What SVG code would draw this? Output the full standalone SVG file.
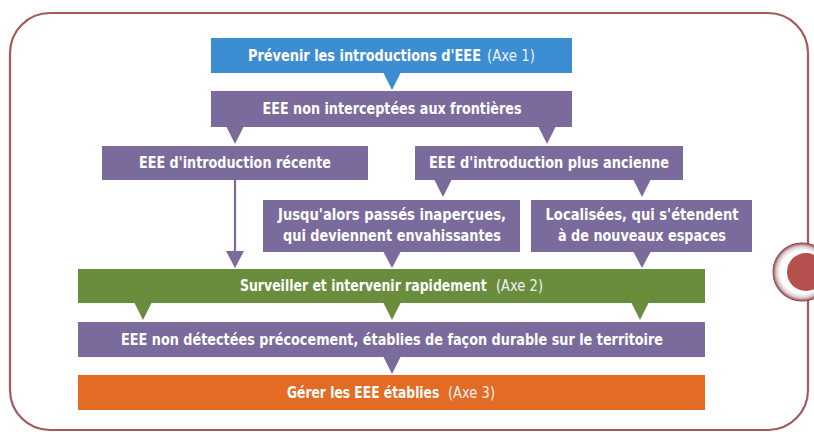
<svg xmlns="http://www.w3.org/2000/svg" width="814" height="432" viewBox="0 0 814 432">
<style>
  .t { font-family: "Liberation Sans Narrow", "DejaVu Sans Condensed", "Liberation Sans", sans-serif; font-size: 15px; font-weight: bold; fill: #ffffff; text-anchor: middle; }
  .s { text-anchor: start; }
  .n { font-weight: normal; fill: #eef0f8; }
  .blue { fill: #3d8dd2; }
  .purple { fill: #7b6b9c; }
  .green { fill: #6a8d3d; }
  .orange { fill: #e36b24; }
</style>
<defs>
  <radialGradient id="ring" cx="0.5" cy="0.5" r="0.5">
    <stop offset="0" stop-color="#ffffff"/>
    <stop offset="0.72" stop-color="#ffffff"/>
    <stop offset="0.86" stop-color="#ddc9c9"/>
    <stop offset="0.97" stop-color="#8f4a4b"/>
    <stop offset="1" stop-color="#8f4a4b" stop-opacity="0"/>
  </radialGradient>
</defs>
<rect x="0" y="0" width="814" height="432" fill="#ffffff"/>
<rect x="10" y="13" width="798" height="417" rx="40" ry="40" fill="#ffffff" stroke="#a35a5d" stroke-width="2.2"/>
<g id="deco">
  <circle cx="802" cy="272" r="30" fill="url(#ring)"/>
  <circle cx="806" cy="272" r="19" fill="#b4504d"/>
</g>
<g id="connectors">
  <polygon class="blue" points="383,72 401,72 392,90"/>
  <polygon class="purple" points="226,126 244,126 235,144"/>
  <polygon class="purple" points="538,126 556,126 547,144"/>
  <polygon class="purple" points="434,179 452,179 443,197"/>
  <polygon class="purple" points="633,179 651,179 642,197"/>
  <line x1="235" y1="180" x2="235" y2="253" stroke="#7b6b9c" stroke-width="2.2"/>
  <polygon class="purple" points="226,251 244,251 235,268"/>
  <polygon class="purple" points="383,251 401,251 392,268"/>
  <polygon class="purple" points="633,251 651,251 642,268"/>
  <polygon class="green" points="134,302 152,302 143,320"/>
  <polygon class="green" points="383,302 401,302 392,320"/>
  <polygon class="green" points="631,302 649,302 640,320"/>
  <polygon class="purple" points="383,356 401,356 392,374"/>
</g>
<g id="axe1">
  <rect class="blue" x="211" y="38" width="361" height="35"/>
  <text class="t s" x="248" y="61" textLength="233" lengthAdjust="spacingAndGlyphs">Prévenir les introductions d'EEE</text>
  <text class="t s n" x="487" y="61" textLength="48" lengthAdjust="spacingAndGlyphs">(Axe 1)</text>
</g>
<g id="non-interceptees">
  <rect class="purple" x="211" y="91" width="361" height="36"/>
  <text class="t" x="392" y="114" textLength="259" lengthAdjust="spacingAndGlyphs">EEE non interceptées aux frontières</text>
</g>
<g id="recente">
  <rect class="purple" x="102" y="146" width="266" height="34"/>
  <text class="t" x="235" y="168" textLength="192" lengthAdjust="spacingAndGlyphs">EEE d'introduction récente</text>
</g>
<g id="ancienne">
  <rect class="purple" x="415" y="146" width="268" height="34"/>
  <text class="t" x="549" y="168" textLength="240" lengthAdjust="spacingAndGlyphs">EEE d'introduction plus ancienne</text>
</g>
<g id="inapercues">
  <rect class="purple" x="263" y="200" width="257" height="52"/>
  <text class="t" x="392" y="220" textLength="228" lengthAdjust="spacingAndGlyphs">Jusqu'alors passés inaperçues,</text>
  <text class="t" x="392" y="241" textLength="218" lengthAdjust="spacingAndGlyphs">qui deviennent envahissantes</text>
</g>
<g id="localisees">
  <rect class="purple" x="531" y="200" width="221" height="52"/>
  <text class="t" x="642" y="220" textLength="193" lengthAdjust="spacingAndGlyphs">Localisées, qui s'étendent</text>
  <text class="t" x="642" y="241" textLength="168" lengthAdjust="spacingAndGlyphs">à de nouveaux espaces</text>
</g>
<g id="axe2">
  <rect class="green" x="78" y="269" width="627" height="34"/>
  <text class="t s" transform="translate(240 291) scale(0.9 1)" x="0" y="0" textLength="274" lengthAdjust="spacingAndGlyphs">Surveiller et intervenir rapidement</text>
  <text class="t s n" x="496" y="291" textLength="47" lengthAdjust="spacingAndGlyphs">(Axe 2)</text>
</g>
<g id="non-detectees">
  <rect class="purple" x="78" y="322" width="627" height="35"/>
  <text class="t" x="392" y="345" textLength="542" lengthAdjust="spacingAndGlyphs">EEE non détectées précocement, établies de façon durable sur le territoire</text>
</g>
<g id="axe3">
  <rect class="orange" x="78" y="375" width="627" height="35"/>
  <text class="t s" transform="translate(287 398) scale(0.88 1)" x="0" y="0" textLength="173" lengthAdjust="spacingAndGlyphs">Gérer les EEE établies</text>
  <text class="t s n" x="448" y="398" textLength="47" lengthAdjust="spacingAndGlyphs">(Axe 3)</text>
</g>
</svg>
